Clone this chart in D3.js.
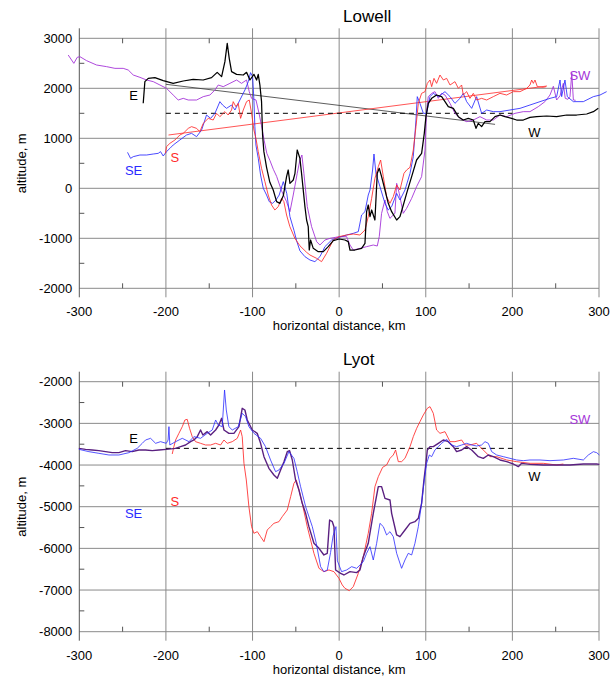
<!DOCTYPE html>
<html>
<head>
<meta charset="utf-8">
<script src="https://cdn.jsdelivr.net/npm/d3@7"></script>
<style>
  body { margin: 0; background: #fff; }
  svg { display: block; font-family: "Liberation Sans", Arial, sans-serif; }
</style>
</head>
<body>
<svg id="chart" width="613" height="677"></svg>
<script>
// ---- shared axis values ----
const xTicks = [-300, -200, -100, 0, 100, 200, 300];
const xMinorTicks = [-250, -150, -50, 50, 150, 250];
const lowellYTicks = [-2000, -1000, 0, 1000, 2000, 3000];
const lowellYMinor = [-1500, -500, 500, 1500, 2500];
const lyotYTicks = [-8000, -7000, -6000, -5000, -4000, -3000, -2000];
const lyotYMinor = [-7500, -6500, -5500, -4500, -3500, -2500];

// ---- Lowell profiles [km, m] ----
const lowellEW = [[-226.2,1700],[-224.3,2133],[-220.4,2199],[-212.7,2213],[-203.1,2153],[-191.6,2099],[-180,2146],[-168.5,2179],[-157,2166],[-147.3,2213],[-140.8,2319],[-135.7,2233],[-131.9,2533],[-129.2,2899],[-126.9,2599],[-124.2,2333],[-118.4,2279],[-110.7,2266],[-106.9,2319],[-103,2166],[-98.4,2279],[-95.3,2166],[-93.4,2279],[-91.5,2066],[-89.6,1733],[-88.4,1066],[-86.9,733],[-83.8,420],[-80,120],[-76.1,-34],[-72.2,-267],[-68.4,-301],[-64.5,-150],[-60.7,233],[-58.8,366],[-56.8,99],[-53,166],[-51,300],[-48.4,766],[-45.3,599],[-43.4,299],[-39.5,-367],[-37.6,-634],[-35.7,-767],[-34.5,-1234],[-33,-1034],[-29.9,-1201],[-24.1,-1267],[-18.3,-1267],[-12.6,-1167],[-6.8,-1047],[0,-1014],[6.7,-1034],[10.5,-1067],[12.5,-1234],[18.2,-1234],[25.9,-1201],[29.8,-1101],[31.7,-467],[33.6,-334],[35.6,-567],[37.5,-434],[41.3,-634],[44,299],[46.3,399],[49,233],[52.9,-34],[56.7,-301],[60.6,-467],[66.4,-634],[70.2,-567],[74.1,-334],[77.9,-101],[83.7,233],[89.4,566],[95.2,699],[98.3,1099],[100.2,1433],[102.9,1699],[106.8,1799],[112.5,1866],[118.3,1833],[122.2,1733],[126,1633],[131.8,1599],[137.6,1433],[143.3,1366],[149.1,1399],[154.9,1366],[158,1199],[160.7,1299],[164.5,1233],[168.4,1333],[174.1,1333],[179.9,1433],[185.7,1466],[191.4,1433],[199.1,1399],[204.9,1366],[212.6,1366],[220.3,1419],[228,1433],[239.6,1446],[251.1,1433],[262.7,1466],[274.2,1466],[285.8,1486],[293.5,1533],[299.2,1599]];

const lowellSW = [[-312.8,2666],[-308.9,2566],[-306.3,2499],[-302.4,2619],[-299.3,2633],[-291.6,2553],[-280.1,2466],[-268.5,2433],[-258.9,2399],[-249.3,2399],[-243.5,2366],[-237.7,2266],[-230,2219],[-222.3,2166],[-214.6,2133],[-206.9,2066],[-199.3,1999],[-191.6,1866],[-185.8,1766],[-180,1799],[-174.2,1766],[-164.6,1766],[-156.9,1833],[-149.2,1866],[-143.4,1966],[-139.6,2066],[-133.8,2033],[-126.1,2099],[-118.4,2166],[-112.7,2099],[-106.9,2166],[-103.8,1933],[-101.1,1799],[-96,1766],[-92.5,1500],[-89.6,1250],[-86.5,950],[-83.5,700],[-80,560],[-76,380],[-72.2,240],[-66.5,-50],[-60.7,-267],[-56.8,-467],[-53,-134],[-48.4,299],[-45.3,566],[-43,666],[-40.7,299],[-36.8,-367],[-31.8,-767],[-26,-1067],[-22.2,-1134],[-16.4,-1034],[-10.6,-1001],[0,-967],[8.6,-967],[12.5,-1134],[16.3,-1234],[24,-1201],[31.7,-1167],[39.4,-1134],[44,-1154],[46.3,-967],[49,-501],[52.9,-234],[55.6,-467],[58.6,-601],[64.4,-501],[66.4,99],[69.4,-101],[74,-501],[77.9,-401],[83.7,-201],[89.4,33],[95.2,233],[99.1,766],[101,1566],[102.9,1833],[106.8,1899],[110.6,1933],[114.5,1799],[118.3,1899],[122.2,1866],[128,1699],[133.7,1499],[139.5,1399],[147.2,1333],[154.9,1366],[162.6,1433],[170.3,1366],[178,1366],[185.7,1466],[193.4,1433],[203,1499],[212.6,1533],[220.3,1533],[229.9,1633],[237.6,1733],[243.4,1866],[247.3,2040],[251.1,1766],[255,1850],[258.8,2100],[261,1800],[264,1780],[266.5,1833],[268.6,2300],[270.4,1766],[273,1760]];

const lowellSE = [[-244.3,719],[-240.8,599],[-237.7,633],[-230,666],[-222.3,666],[-214.6,686],[-208.9,699],[-206.2,733],[-203.1,646],[-199.3,733],[-195.4,799],[-191.6,866],[-183.9,966],[-176.2,1066],[-170.4,1099],[-164.6,1033],[-158.8,1166],[-153.1,1466],[-148.4,1399],[-143.4,1499],[-137.7,1733],[-134.6,1666],[-130,1599],[-124.2,1666],[-120.3,1566],[-114.6,1766],[-108.8,1966],[-104.9,2133],[-102.3,2313],[-99.9,2233],[-98.4,1766],[-97.3,1233],[-96.1,866],[-93.4,599],[-90.7,266],[-87.6,0],[-83.8,-134],[-80.7,-267],[-76.9,-301],[-72.9,-234],[-69.2,-134],[-64.5,133],[-60.5,-100],[-56.8,-567],[-52,-850],[-49.1,-1050],[-45.3,-1250],[-39.5,-1367],[-33.7,-1434],[-28,-1467],[-22.2,-1367],[-16.4,-1167],[-8.7,-1034],[0,-981],[8.6,-934],[16.3,-901],[22.1,-867],[25.9,-534],[29.8,-467],[33.6,-134],[35.6,-34],[38.6,366],[40.2,686],[42.5,299],[47.1,33],[52.9,-301],[56.7,-434],[60.6,-367],[66.4,-101],[70.2,-234],[76,-34],[81.8,299],[85.6,633],[88.7,1366],[90.2,1833],[93.3,1699],[97.2,1499],[101,1499],[104.9,1833],[108.7,1899],[114.5,1833],[122.2,1933],[128,1833],[133.7,1699],[139.5,1799],[143.3,1899],[147.2,1733],[153,1599],[158.7,1833],[164.5,1499],[170.3,1566],[178,1533],[185.7,1533],[197.2,1566],[208.8,1599],[220.3,1666],[231.9,1733],[243.4,1799],[251.1,1833],[255,2166],[256.9,1833],[260.7,2166],[263.4,1833],[270.4,1733],[281.9,1733],[293.5,1833],[301.2,1866],[308.8,1933]];

const lowellS = [[-200.5,700],[-199.3,833],[-195.4,899],[-189.6,966],[-183.9,1066],[-180,1099],[-174.2,1199],[-170.4,1233],[-164.6,1199],[-160.8,1133],[-156.9,1299],[-151.1,1399],[-145.4,1366],[-141.5,1499],[-137.7,1433],[-131.9,1533],[-128.1,1466],[-124.2,1566],[-122.3,1733],[-119.2,1633],[-116.5,1699],[-113.8,1399],[-110.7,1566],[-106.9,1733],[-103.8,1766],[-101.1,1499],[-98.4,1166],[-96.1,1000],[-93.4,733],[-89.6,399],[-85.7,133],[-81.9,-134],[-78,-334],[-74.2,-434],[-70.3,-367],[-66.5,-201],[-63.8,-267],[-60.7,-534],[-56.9,-767],[-51.1,-1001],[-45.3,-1150],[-37.6,-1280],[-33.7,-1334],[-26,-1401],[-20.3,-1467],[-14.5,-1301],[-6.8,-1034],[0,-967],[8.6,-934],[16.3,-914],[24,-934],[29.8,-834],[33.6,-567],[37.5,-201],[41.3,199],[45.2,433],[47.9,566],[51,233],[54.8,-167],[58.6,-301],[62.5,-167],[66.4,66],[70.2,-34],[74.8,299],[77.9,366],[81.8,420],[85.6,766],[88.7,1233],[91.4,1699],[95.2,1899],[99.1,1933],[101.8,2099],[104.9,2166],[106.8,2033],[109.5,2199],[112.5,2099],[116.4,2266],[120.3,2166],[124.1,2199],[128,2066],[133.7,2133],[137.6,1999],[141.4,2066],[143.3,1866],[147.2,1933],[151,1799],[154.9,1899],[158.7,1766],[164.5,1799],[170.3,1766],[178,1833],[185.7,1899],[193.4,1866],[201.1,1933],[208.8,1933],[216.5,1999],[220.3,2066],[222.3,2166],[224.2,2099],[226.1,2166],[228.8,2033],[235.7,2019],[238.8,2033]];

// straight reference lines and rim level for Lowell
const lowellTrendEW = [[-200, 2080], [180, 1279]];
const lowellTrendS = [[-197, 1066], [240, 2046]];
const lowellRim = [[-200, 1500], [200, 1500]];

// ---- Lyot profiles [km, m] ----
const lyotEW = [[-300.5,-3599],[-292.8,-3623],[-285.1,-3639],[-277.4,-3655],[-269.7,-3679],[-262,-3703],[-254.3,-3703],[-246.6,-3655],[-238.9,-3679],[-231.2,-3639],[-223.5,-3639],[-215.8,-3655],[-208.1,-3639],[-199.6,-3623],[-188.8,-3599],[-183.1,-3559],[-177.3,-3519],[-171.5,-3439],[-167.7,-3399],[-163.8,-3319],[-160,-3159],[-157.3,-3279],[-152.3,-3199],[-148.4,-3279],[-142.6,-3159],[-138.8,-3039],[-135.7,-2879],[-133,-3159],[-127.3,-3239],[-121.5,-3239],[-115.7,-3079],[-111.9,-2639],[-108.8,-2679],[-106.1,-2919],[-100.3,-3159],[-94.6,-3239],[-90.7,-3479],[-86.8,-3799],[-81.1,-4079],[-75.3,-4239],[-71.4,-4319],[-67.6,-4119],[-63.7,-3919],[-59.9,-3679],[-57.2,-3655],[-54.1,-3879],[-50.3,-4359],[-46.4,-4599],[-42.6,-4919],[-38.7,-5159],[-34.9,-5479],[-29.1,-5879],[-23.3,-5999],[-17.6,-6159],[-13.7,-6119],[-11,-5319],[-7.9,-5359],[-6,-5479],[-4.1,-6519],[1.7,-6599],[5.5,-6639],[12.5,-6559],[20.2,-6583],[24,-6519],[27.9,-6199],[33.6,-5879],[39.4,-5159],[45.2,-4519],[49,-4519],[52.9,-4799],[58.7,-4839],[60.6,-5159],[66.4,-5679],[70.2,-5719],[76,-5559],[81.8,-5399],[87.5,-5359],[91.4,-5279],[95.2,-4919],[97.9,-4359],[100.2,-3959],[101.8,-3639],[104.9,-3559],[108.7,-3559],[114.5,-3479],[120.2,-3399],[126,-3439],[131.8,-3559],[135.6,-3679],[141.4,-3639],[147.2,-3559],[153,-3639],[160.7,-3799],[166.4,-3839],[172.2,-3759],[178,-3799],[185.7,-3879],[193.4,-3919],[201.1,-3975],[206.8,-4039],[210.7,-3959],[220.3,-3983],[235.7,-3999],[251.1,-3999],[266.5,-3999],[281.9,-3975],[297.3,-3975],[300.4,-3983]];

const lyotSE = [[-300.5,-3623],[-288.9,-3679],[-277.4,-3719],[-265.8,-3759],[-254.3,-3759],[-242.7,-3703],[-233.1,-3599],[-227.3,-3479],[-223.5,-3399],[-217.7,-3359],[-211.9,-3479],[-206.2,-3439],[-199.6,-3479],[-197.5,-3400],[-196.5,-3079],[-195.5,-3519],[-188.8,-3439],[-181.1,-3359],[-173.4,-3439],[-167.7,-3319],[-160,-3359],[-152.3,-3239],[-146.5,-3159],[-142.6,-2919],[-139.6,-3039],[-135,-3079],[-132.3,-2199],[-130.3,-2679],[-127.3,-3079],[-123.4,-3159],[-116.5,-3079],[-111.9,-2759],[-108,-2839],[-104.2,-3079],[-98.4,-3239],[-90.7,-3359],[-85,-3559],[-79.2,-3879],[-73.4,-4159],[-69.5,-4119],[-63.7,-3959],[-58,-3679],[-52.2,-3839],[-48.4,-4159],[-44.5,-4519],[-38.7,-4999],[-31,-5479],[-26.4,-5879],[-21.4,-6439],[-17.6,-6559],[-13.7,-6519],[-9.9,-6100],[-7,-5700],[-3.7,-5479],[-2,-6300],[2.8,-6559],[8.6,-6519],[14.4,-6439],[20.2,-6479],[27.9,-6319],[31.7,-6119],[35.6,-5959],[39.4,-6279],[43.3,-5879],[47.1,-5399],[51,-5479],[54.8,-5679],[58.7,-5599],[62.5,-5719],[66.4,-6119],[72.1,-6479],[76,-6279],[79.8,-6119],[83.7,-6159],[87.5,-5879],[91.4,-5479],[95.2,-4919],[98.3,-4359],[101,-3959],[104.1,-3759],[106.8,-3799],[110.6,-3639],[114.5,-3559],[118.3,-3479],[124.1,-3383],[129.9,-3519],[135.6,-3559],[141.4,-3519],[147.2,-3479],[153,-3519],[158.7,-3543],[164.5,-3519],[168.4,-3439],[172.2,-3479],[176.1,-3679],[181.8,-3759],[189.5,-3799],[197.2,-3839],[204.9,-3879],[212.6,-3895],[220.3,-3879],[231.9,-3879],[243.4,-3895],[258.8,-3879],[270.4,-3839],[281.9,-3879],[287.7,-3759],[293.5,-3679],[297.3,-3703],[300.4,-3759]];

const lyotS = [[-192.7,-3735],[-190.8,-3559],[-188.8,-3399],[-185,-3239],[-181.1,-3079],[-178.1,-2919],[-175.4,-2903],[-172.7,-3119],[-169.6,-3319],[-165.8,-3439],[-160,-3479],[-154.2,-3519],[-148.4,-3519],[-142.6,-3479],[-136.9,-3519],[-133,-3399],[-129.2,-3479],[-123.4,-3439],[-117.6,-3359],[-113.8,-3159],[-111.9,-3319],[-109.9,-3959],[-107.2,-4359],[-104.2,-4999],[-101.1,-5479],[-98.4,-5639],[-94.5,-5599],[-90.7,-5719],[-86.8,-5839],[-83,-5559],[-79.2,-5479],[-75.3,-5399],[-69.5,-5359],[-65.7,-5239],[-59.9,-5079],[-56,-4759],[-52.2,-4439],[-49.5,-4359],[-46.4,-4599],[-42.6,-4919],[-36.8,-5479],[-29.1,-6119],[-23.3,-6479],[-17.6,-6559],[-11.8,-6519],[-6,-6559],[-0.2,-6719],[3.6,-6879],[6.7,-6959],[11.7,-7015],[16.3,-6919],[22.1,-6599],[27.9,-6199],[33.6,-5639],[37.5,-5159],[41.3,-4519],[45.2,-4279],[50.2,-4055],[54.8,-3999],[58.7,-3839],[62.5,-3759],[65.2,-3639],[68.3,-3919],[72.1,-3919],[76,-3839],[81.8,-3559],[85.6,-3319],[89.5,-3119],[93.3,-2959],[97.2,-2799],[101.8,-2639],[104.9,-2599],[108.7,-2759],[112.5,-3159],[116.4,-3239],[122.2,-3199],[128,-3439],[133.7,-3439],[141.4,-3399],[145.3,-3519],[151,-3519],[158.7,-3479],[166.4,-3639],[174.1,-3799],[181.8,-3799],[193.4,-3879],[204.9,-3919],[220.3,-3959],[235.7,-3959],[251.1,-3999],[258.8,-3975]];

const lyotRim = [[-200, -3600], [200, -3600]];

// direction labels [text, km, m, colour key]
const lowellLabels = [["E",-242.4,1766,"k"],["S",-194.6,532,"r"],["SE",-247.3,266,"b"],["SW",265.9,2166,"p"],["W",218.4,1032,"k"]];
const lyotLabels = [["E",-242.4,-3471,"k"],["S",-194.6,-4983,"r"],["SE",-247.3,-5271,"b"],["SW",265.9,-3015,"p"],["W",218.4,-4383,"k"]];

const colors = { k: "#000", r: "#ff2a2a", b: "#2a2aff", p: "#a535d8", dp: "#5a2080" };

const svg = d3.select("#chart");
const x = d3.scaleLinear().domain([-300, 300]).range([79.3, 599]);
const line = d3.line();

function drawPanel(opt) {
  const y = d3.scaleLinear().domain(opt.yDomain).range([opt.bottom, opt.top]);
  const g = svg.append("g");
  line.x(d => x(d[0])).y(d => y(d[1]));

  // grid: horizontal lines at major ticks
  g.selectAll(".hgrid").data(opt.yTicks).join("line")
    .attr("x1", x(-300)).attr("x2", x(300))
    .attr("y1", d => y(d)).attr("y2", d => y(d))
    .attr("stroke", "#8a8a8a").attr("stroke-width", 1);

  // vertical grid lines, slightly overshooting top and bottom
  g.selectAll(".vgrid").data(xTicks).join("line")
    .attr("x1", d => x(d)).attr("x2", d => x(d))
    .attr("y1", opt.top - 10).attr("y2", opt.bottom + 9)
    .attr("stroke", d => d === -300 ? "#555" : "#8a8a8a").attr("stroke-width", 1);

  // minor x ticks on top and bottom grid lines
  g.selectAll(".xminB").data(xMinorTicks).join("line")
    .attr("x1", d => x(d)).attr("x2", d => x(d))
    .attr("y1", opt.bottom).attr("y2", opt.bottom - 5)
    .attr("stroke", "#555");
  g.selectAll(".xminT").data(xMinorTicks).join("line")
    .attr("x1", d => x(d)).attr("x2", d => x(d))
    .attr("y1", opt.top).attr("y2", opt.top + 5)
    .attr("stroke", "#555");
  // minor y ticks
  g.selectAll(".yminor").data(opt.yMinor).join("line")
    .attr("x1", x(-300)).attr("x2", x(-300) + 5)
    .attr("y1", d => y(d)).attr("y2", d => y(d))
    .attr("stroke", "#555");

  // tick labels
  g.selectAll(".ylab").data(opt.yTicks).join("text")
    .attr("x", x(-300) - 7).attr("y", d => y(d) + 4.5)
    .attr("text-anchor", "end").attr("font-size", 13)
    .text(d => d);
  g.selectAll(".xlab").data(xTicks).join("text")
    .attr("x", d => x(d)).attr("y", opt.bottom + 28)
    .attr("text-anchor", "middle").attr("font-size", 13)
    .text(d => d);

  g.append("text")
    .attr("x", x(0)).attr("y", opt.bottom + 42)
    .attr("text-anchor", "middle").attr("font-size", 13)
    .text("horizontal distance, km");
  g.append("text")
    .attr("transform", `translate(26,${(opt.top + opt.bottom) / 2}) rotate(-90)`)
    .attr("text-anchor", "middle").attr("font-size", 13)
    .text("altitude, m");
  g.append("text")
    .attr("x", 343).attr("y", opt.top - 16.6)
    .attr("font-size", 17)
    .text(opt.title);

  // reference lines
  (opt.refs || []).forEach(r => {
    g.append("path").datum(r.data)
      .attr("fill", "none").attr("stroke", r.color)
      .attr("stroke-width", r.width || 0.8)
      .attr("stroke-dasharray", r.dash || null)
      .attr("d", line);
  });

  // profiles
  opt.series.forEach(s => {
    g.append("path").datum(s.data)
      .attr("fill", "none").attr("stroke", s.color)
      .attr("stroke-width", s.width).attr("stroke-opacity", s.opacity || 1)
      .attr("stroke-linejoin", "round")
      .attr("d", line);
  });

  g.selectAll(".dir").data(opt.labels).join("text")
    .attr("x", d => x(d[1])).attr("y", d => y(d[2]))
    .attr("font-size", 13).attr("fill", d => colors[d[3]])
    .text(d => d[0]);
}

drawPanel({
  title: "Lowell", yDomain: [-2000, 3000], top: 38.3, bottom: 288.3,
  yTicks: lowellYTicks, yMinor: lowellYMinor,
  refs: [
    { data: lowellTrendEW, color: "#333", width: 0.8 },
    { data: lowellTrendS, color: colors.r, width: 0.8 },
    { data: lowellRim, color: "#000", width: 1, dash: "5,4" }
  ],
  series: [
    { data: lowellSW, color: colors.p, width: 1, opacity: 0.9 },
    { data: lowellSE, color: colors.b, width: 1, opacity: 0.85 },
    { data: lowellS, color: colors.r, width: 1, opacity: 0.85 },
    { data: lowellEW, color: colors.k, width: 1.25 }
  ],
  labels: lowellLabels
});

drawPanel({
  title: "Lyot", yDomain: [-8000, -2000], top: 381.7, bottom: 631.7,
  yTicks: lyotYTicks, yMinor: lyotYMinor,
  refs: [
    { data: lyotRim, color: "#000", width: 1, dash: "5,4" }
  ],
  series: [
    { data: lyotS, color: colors.r, width: 1, opacity: 0.85 },
    { data: lyotEW, color: colors.dp, width: 1.4 },
    { data: lyotSE, color: colors.b, width: 1, opacity: 0.8 }
  ],
  labels: lyotLabels
});
</script>
</body>
</html>
